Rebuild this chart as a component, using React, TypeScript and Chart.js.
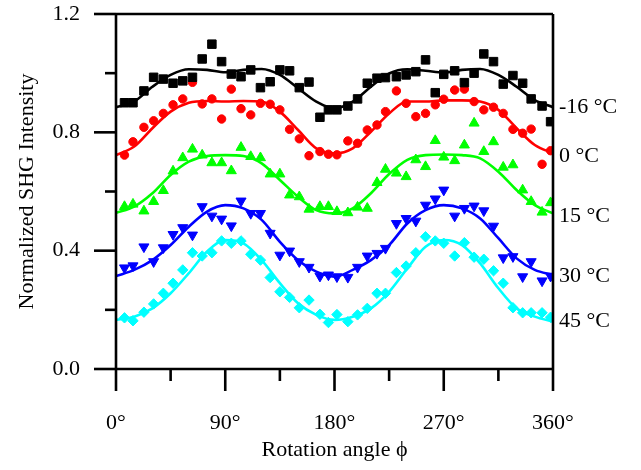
import React, { useEffect, useRef } from "react";
import { Chart, registerables } from "chart.js";

Chart.register(...registerables);

// Measured rotation angles (deg) of the data points
const angles = [7, 14, 23, 31, 39, 47, 55, 63, 71, 79, 87, 95, 103, 111, 119, 127, 135, 143, 151, 159, 168, 175, 182,
  191, 199, 207, 215, 222, 231, 239, 247, 255, 263, 270, 279, 287, 295, 303, 311, 319, 327, 335, 342, 351, 358];

const dataM16 = [0.900, 0.900, 0.940, 0.986, 0.980, 0.966, 0.974, 0.986, 1.048, 1.098, 1.039, 0.997, 0.988, 1.011, 0.951, 0.971, 1.011, 1.008, 0.951, 0.970, 0.851, 0.876, 0.876,
  0.889, 0.913, 0.966, 0.983, 0.985, 0.988, 0.994, 1.005, 1.045, 0.934, 0.996, 1.008, 0.968, 1.000, 1.065, 1.039, 0.963, 0.992, 0.966, 0.913, 0.889, 0.836];
const data0 = [0.723, 0.768, 0.817, 0.839, 0.864, 0.893, 0.913, 0.969, 0.896, 0.913, 0.845, 0.946, 0.880, 0.859, 0.898, 0.895, 0.876, 0.810, 0.778, 0.721, 0.735, 0.726, 0.724,
  0.771, 0.763, 0.808, 0.825, 0.870, 0.940, 0.898, 0.853, 0.864, 0.893, 0.912, 0.943, 0.946, 0.904, 0.876, 0.885, 0.864, 0.810, 0.797, 0.811, 0.692, 0.738];
const data15 = [0.549, 0.557, 0.534, 0.566, 0.603, 0.669, 0.714, 0.743, 0.723, 0.697, 0.697, 0.670, 0.749, 0.718, 0.714, 0.659, 0.659, 0.588, 0.582, 0.540, 0.549, 0.549, 0.532,
  0.528, 0.547, 0.543, 0.630, 0.675, 0.662, 0.650, 0.707, 0.684, 0.772, 0.716, 0.704, 0.757, 0.831, 0.735, 0.768, 0.682, 0.690, 0.605, 0.566, 0.530, 0.562];
const data30 = [0.342, 0.349, 0.413, 0.363, 0.410, 0.455, 0.478, 0.453, 0.549, 0.517, 0.507, 0.484, 0.568, 0.526, 0.526, 0.459, 0.385, 0.399, 0.363, 0.344, 0.314, 0.318, 0.312,
  0.310, 0.344, 0.382, 0.391, 0.408, 0.492, 0.509, 0.500, 0.554, 0.575, 0.605, 0.517, 0.543, 0.551, 0.535, 0.483, 0.376, 0.380, 0.312, 0.363, 0.298, 0.314];
const data45 = [0.173, 0.163, 0.192, 0.220, 0.256, 0.290, 0.335, 0.393, 0.382, 0.393, 0.433, 0.425, 0.433, 0.388, 0.368, 0.309, 0.261, 0.242, 0.207, 0.233, 0.185, 0.157, 0.184,
  0.160, 0.183, 0.205, 0.256, 0.256, 0.326, 0.348, 0.393, 0.447, 0.433, 0.425, 0.382, 0.427, 0.378, 0.371, 0.332, 0.290, 0.207, 0.190, 0.190, 0.190, 0.175];

// Fitted curves read at these angles
const fitAngles = [0, 15, 30, 45, 60, 75, 90, 105, 120, 135, 150, 165, 180, 195, 210, 225, 240, 255, 270, 285, 300, 315, 330, 345, 360];
const fitM16 = [0.885, 0.904, 0.954, 0.994, 1.013, 1.011, 1.003, 1.011, 1.014, 0.994, 0.949, 0.904, 0.881, 0.904, 0.954, 0.999, 1.013, 1.008, 1.002, 1.011, 1.014, 0.994, 0.954, 0.909, 0.885];
const fit0 = [0.723, 0.752, 0.814, 0.870, 0.900, 0.906, 0.904, 0.906, 0.904, 0.870, 0.808, 0.746, 0.729, 0.746, 0.802, 0.864, 0.904, 0.904, 0.908, 0.908, 0.904, 0.876, 0.814, 0.757, 0.729];
const fit15 = [0.528, 0.549, 0.594, 0.656, 0.701, 0.720, 0.723, 0.720, 0.695, 0.639, 0.582, 0.537, 0.526, 0.543, 0.594, 0.659, 0.707, 0.723, 0.725, 0.723, 0.712, 0.667, 0.605, 0.554, 0.526];
const fit30 = [0.314, 0.335, 0.368, 0.419, 0.481, 0.532, 0.554, 0.543, 0.504, 0.430, 0.368, 0.329, 0.312, 0.335, 0.368, 0.419, 0.492, 0.537, 0.554, 0.543, 0.509, 0.442, 0.374, 0.335, 0.318];
const fit45 = [0.166, 0.177, 0.205, 0.256, 0.324, 0.397, 0.436, 0.425, 0.368, 0.290, 0.222, 0.183, 0.166, 0.177, 0.205, 0.261, 0.340, 0.413, 0.436, 0.419, 0.357, 0.273, 0.205, 0.177, 0.160];

// Series labels shown at the right of the frame, and the heights they sit at
const seriesLabels = ["-16 °C", "0 °C", "15 °C", "30 °C", "45 °C"];
const seriesLabelPos = [0.884, 0.720, 0.517, 0.314, 0.160];

// Axis ticks
const xMajorTicks = [0, 90, 180, 270, 360];
const xMinorTicks = [45, 135, 225, 315];
const yMajorTicks = [0.0, 0.4, 0.8, 1.2];
const yMinorTicks = [0.2, 0.6, 1.0];

const FONT = "'Liberation Serif', 'Times New Roman', serif";
const W = 641;
const H = 470;

const pts = (xs: number[], ys: number[]) => xs.map((x, i) => ({ x, y: ys[i] }));

function seg(ctx: CanvasRenderingContext2D, x1: number, y1: number, x2: number, y2: number) {
  ctx.beginPath();
  ctx.moveTo(x1, y1);
  ctx.lineTo(x2, y2);
  ctx.stroke();
}

// Frame and tick marks, placed from the chart's own scales
function drawFrame(chart: any, ctx: CanvasRenderingContext2D | null) {
  if (!chart || !ctx || !chart.chartArea || !chart.scales || !chart.scales.x || !chart.scales.y) return;
  const a = chart.chartArea;
  const xs = chart.scales.x;
  const ys = chart.scales.y;
  ctx.setTransform(1, 0, 0, 1, 0, 0);
  ctx.clearRect(0, 0, W, H);
  ctx.strokeStyle = "#000000";
  ctx.lineWidth = 2.6;
  ctx.lineCap = "butt";
  seg(ctx, a.left, a.top, a.right, a.top);
  seg(ctx, a.right, a.top, a.right, a.bottom);
  seg(ctx, a.left, a.bottom, a.right, a.bottom);
  seg(ctx, a.left, a.top, a.left, a.bottom);
  for (const v of xMajorTicks) {
    const px = xs.getPixelForValue(v);
    seg(ctx, px, a.bottom, px, a.bottom + 22);
  }
  for (const v of xMinorTicks) {
    const px = xs.getPixelForValue(v);
    seg(ctx, px, a.bottom, px, a.bottom + 12);
  }
  for (const v of yMajorTicks) {
    const py = ys.getPixelForValue(v);
    seg(ctx, a.left, py, a.left - 22, py);
  }
  for (const v of yMinorTicks) {
    const py = ys.getPixelForValue(v);
    seg(ctx, a.left, py, a.left - 11, py);
  }
}

export default function App() {
  const ref = useRef<HTMLCanvasElement | null>(null);
  const overlayRef = useRef<HTMLCanvasElement | null>(null);
  useEffect(() => {
    document.body.style.margin = "0";
    if (!ref.current) return;
    Chart.defaults.font.family = FONT;
    Chart.defaults.color = "#000";
    const getOverlayCtx = () => (overlayRef.current ? overlayRef.current.getContext("2d") : null);
    const framePlugin = {
      id: "overlayFrame",
      afterDraw(chart: any) {
        drawFrame(chart, getOverlayCtx());
      },
    };
    const scatterSet = (label: string, d: number[], color: string, style: string, radius: number, rotation = 0) => ({
      label,
      data: pts(angles, d),
      backgroundColor: color,
      borderColor: color,
      pointStyle: style,
      pointRadius: radius,
      pointRotation: rotation,
      pointBorderWidth: 1,
      showLine: false,
      order: 2,
    });
    const fitSet = (label: string, d: number[], color: string) => ({
      label,
      data: pts(fitAngles, d),
      borderColor: color,
      backgroundColor: color,
      borderWidth: 2.6,
      pointRadius: 0,
      showLine: true,
      cubicInterpolationMode: "monotone",
      order: 1,
    });
    const chart: any = new Chart(ref.current, {
      type: "scatter",
      data: {
        datasets: [
          scatterSet("-16 °C", dataM16, "#000000", "rect", 6.0),
          scatterSet("0 °C", data0, "#ff0000", "circle", 4.2),
          scatterSet("15 °C", data15, "#00ff00", "triangle", 5.8),
          scatterSet("30 °C", data30, "#0000ff", "triangle", 5.8, 180),
          scatterSet("45 °C", data45, "#00ffff", "rectRot", 5.2),
          fitSet("fit -16 °C", fitM16, "#000000"),
          fitSet("fit 0 °C", fit0, "#ff0000"),
          fitSet("fit 15 °C", fit15, "#00ff00"),
          fitSet("fit 30 °C", fit30, "#0000ff"),
          fitSet("fit 45 °C", fit45, "#00ffff"),
        ] as any,
      },
      options: {
        animation: false,
        responsive: false,
        layout: { padding: { top: 14, left: 0, right: 0, bottom: 0 } },
        plugins: { legend: { display: false }, tooltip: { enabled: false } },
        scales: {
          x: {
            type: "linear",
            min: 0,
            max: 360,
            afterBuildTicks: (s: any) => {
              s.ticks = xMajorTicks.map((v) => ({ value: v }));
            },
            ticks: {
              autoSkip: false,
              maxRotation: 0,
              padding: 2,
              font: { size: 22, family: FONT },
              color: "#000",
              callback: (v: any) => `${v}°`,
            },
            grid: { display: false, drawTicks: true, tickLength: 39 },
            border: { display: false },
            title: {
              display: true,
              text: "Rotation angle ϕ",
              font: { size: 22, family: FONT },
              color: "#000",
              padding: { top: 0, bottom: 7 },
            },
            afterFit: (s: any) => {
              s.height = 101;
            },
          },
          y: {
            type: "linear",
            position: "left",
            min: 0,
            max: 1.2,
            afterBuildTicks: (s: any) => {
              s.ticks = yMajorTicks.map((v) => ({ value: v }));
            },
            ticks: {
              autoSkip: false,
              padding: 0,
              font: { size: 22, family: FONT },
              color: "#000",
              callback: (v: any) => Number(v).toFixed(1),
            },
            grid: { display: false, drawTicks: true, tickLength: 36 },
            border: { display: false },
            title: {
              display: true,
              text: "Normalized SHG Intensity",
              font: { size: 22, family: FONT },
              color: "#000",
              padding: { top: 14, bottom: 0 },
            },
            afterFit: (s: any) => {
              s.width = 116;
            },
          },
          y2: {
            type: "linear",
            position: "right",
            min: 0,
            max: 1.2,
            afterBuildTicks: (s: any) => {
              s.ticks = seriesLabelPos.map((v) => ({ value: v }));
            },
            ticks: {
              autoSkip: false,
              padding: 0,
              font: { size: 22, family: FONT },
              color: "#000",
              callback: (_v: any, i: number) => seriesLabels[i],
            },
            grid: { display: false, drawTicks: true, tickLength: 6 },
            border: { display: false },
            afterFit: (s: any) => {
              s.width = 88;
            },
          },
        },
      } as any,
      plugins: [framePlugin],
    });
    drawFrame(chart, getOverlayCtx());
    const t1 = window.setTimeout(() => drawFrame(chart, getOverlayCtx()), 30);
    const t2 = window.setTimeout(() => drawFrame(chart, getOverlayCtx()), 300);
    return () => {
      window.clearTimeout(t1);
      window.clearTimeout(t2);
      chart.destroy();
    };
  }, []);
  return (
    <div style={{ position: "absolute", left: 0, top: 0, width: W, height: H, background: "#fff" }}>
      <canvas ref={ref} width={W} height={H} style={{ position: "absolute", left: 0, top: 0, width: W, height: H, display: "block" }} />
      <canvas
        ref={overlayRef}
        width={W}
        height={H}
        style={{ position: "absolute", left: 0, top: 0, width: W, height: H, display: "block", pointerEvents: "none" }}
      />
    </div>
  );
}
